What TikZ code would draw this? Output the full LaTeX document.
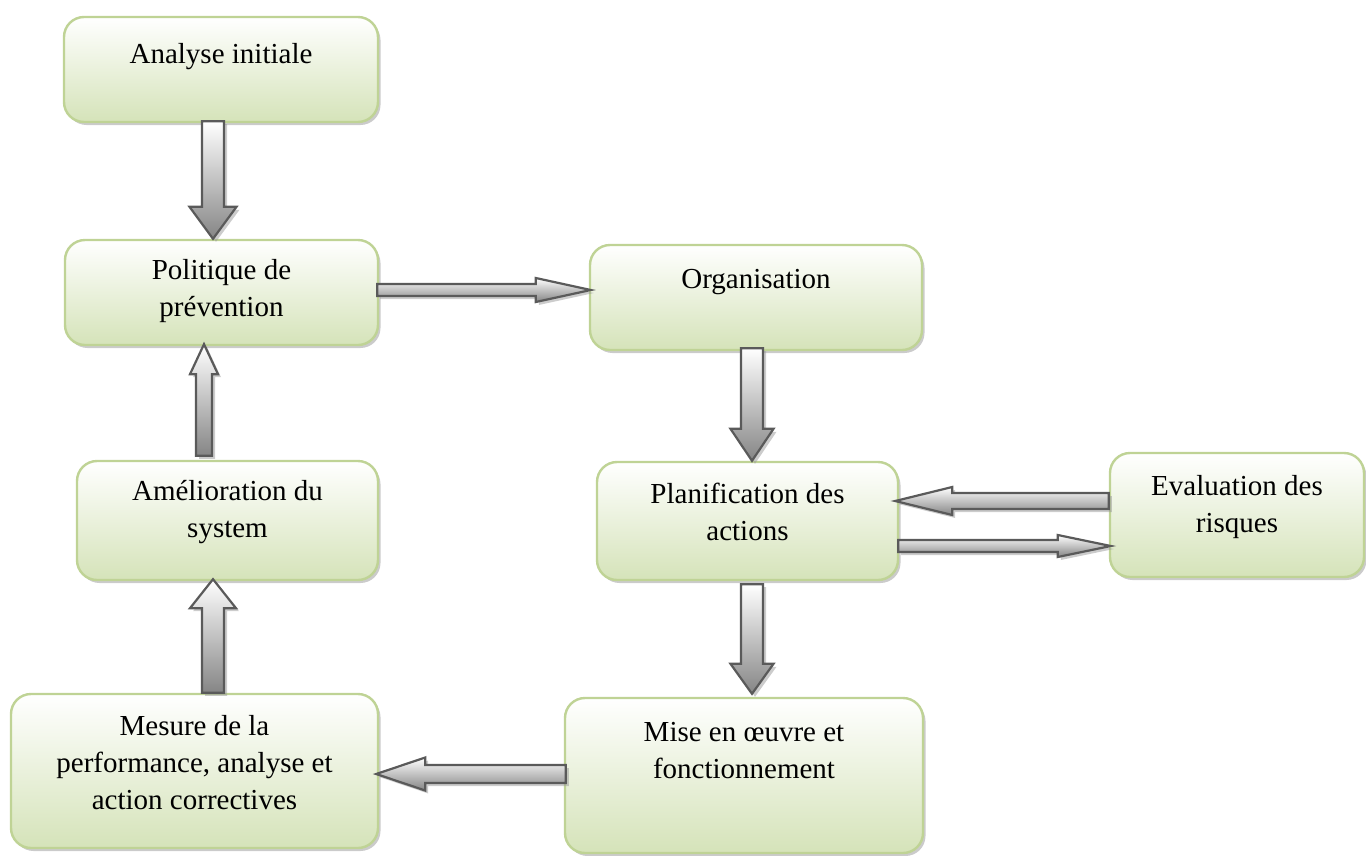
\documentclass[tikz,border=0pt]{standalone}
\usepackage{fontspec}
\setmainfont{Liberation Serif}
\usetikzlibrary{calc,shadows}

\definecolor{boxgreen}{HTML}{D5E3B9}
\definecolor{boxline}{HTML}{BFD395}
\definecolor{arrowgray}{HTML}{858585}
\definecolor{arrowline}{HTML}{5A5A5A}

\tikzset{
  stagebox/.style={rounded corners=20pt, draw=boxline, line width=2.4pt,
    top color=white, bottom color=boxgreen, inner sep=0pt,
    drop shadow={shadow xshift=2.5pt, shadow yshift=-3pt, fill=black!45, opacity=0.45}},
  stagetext/.style={anchor=base, inner sep=0pt, align=center,
    font=\fontsize{29}{37}\selectfont},
  blockarrow/.style={draw=arrowline, line width=2.2pt, line join=miter,
    top color=white, bottom color=arrowgray,
    drop shadow={shadow xshift=3pt, shadow yshift=-3pt, fill=black!40, opacity=0.5}}
}

% block arrow: #1 tail, #2 tip, #3 shaft half-width, #4 head half-width, #5 head length
\newcommand\blockarrow[5]{%
  \coordinate (ba-tail) at #1;
  \coordinate (ba-tip) at #2;
  \coordinate (ba-hb) at ($(ba-tip)!#5!(ba-tail)$);
  \draw[blockarrow]
    ($(ba-tail)!#3!90:(ba-tip)$) -- ($(ba-hb)!#3!-90:(ba-tail)$)
    -- ($(ba-hb)!#4!-90:(ba-tail)$) -- (ba-tip)
    -- ($(ba-hb)!#4!90:(ba-tail)$) -- ($(ba-hb)!#3!90:(ba-tail)$)
    -- ($(ba-tail)!#3!-90:(ba-tip)$) -- cycle;
}

\begin{document}
\begin{tikzpicture}[x=1pt, y=-1pt]
\useasboundingbox (0,0) rectangle (1366,855);

% stages
\node[stagebox, minimum width=314pt, minimum height=105pt] (A)  at (221,69.5)   {};
\node[stagebox, minimum width=313pt, minimum height=105pt] (P)  at (221.5,292.5) {};
\node[stagebox, minimum width=332pt, minimum height=105pt] (O)  at (756,297.5)  {};
\node[stagebox, minimum width=301pt, minimum height=118pt] (PL) at (747.5,521)  {};
\node[stagebox, minimum width=254pt, minimum height=124pt] (E)  at (1237,515)   {};
\node[stagebox, minimum width=301pt, minimum height=119pt] (AM) at (227.5,520.5) {};
\node[stagebox, minimum width=367pt, minimum height=154pt] (M)  at (194.5,771)  {};
\node[stagebox, minimum width=358pt, minimum height=155pt] (MI) at (744,775.5)  {};

% stage labels (anchored on the baseline of their last line)
\node[stagetext] (tA)  at ($(A.north)+(0,48)$)    {Analyse initiale};
\node[stagetext] (tP)  at ($(P.north)+(0,78)$)    {Politique de\\prévention};
\node[stagetext] (tO)  at ($(O.north)+(0,45)$)    {Organisation};
\node[stagetext] (tPL) at ($(PL.north)+(0,80)$)   {Planification des\\actions};
\node[stagetext] (tE)  at ($(E.north)+(0,81)$)    {Evaluation des\\risques};
\node[stagetext] (tAM) at ($(AM.north)+(0,78)$)   {Amélioration du\\system};
\node[stagetext] (tM)  at ($(M.north)+(0,117)$)   {Mesure de la\\performance, analyse et\\action correctives};
\node[stagetext] (tMI) at ($(MI.north)+(0,82)$)   {Mise en œuvre et\\fonctionnement};

% connectors
\blockarrow{($(A.south)+(-8,-2)$)}{($(P.north)+(-8.5,0)$)}{11pt}{23.5pt}{32pt}
\blockarrow{($(P.east)+(-2,-2.5)$)}{($(O.west)+(2,-7.5)$)}{6pt}{12pt}{55pt}
\blockarrow{($(O.south)+(-4,-3)$)}{($(PL.north)+(4.5,0)$)}{11pt}{21.5pt}{32pt}
\blockarrow{($(E.west)+(0,-14)$)}{($(PL.east)+(-4,-20)$)}{8pt}{14pt}{57pt}
\blockarrow{($(PL.east)+(-1,25)$)}{($(E.west)+(2,31)$)}{6pt}{11pt}{53pt}
\blockarrow{($(PL.south)+(4.5,3)$)}{($(MI.north)+(8,-3)$)}{11pt}{21.5pt}{30pt}
\blockarrow{($(MI.west)+(2,-1.5)$)}{($(M.east)+(-3,3)$)}{9pt}{16.5pt}{49pt}
\blockarrow{($(M.north)+(18.5,0)$)}{($(AM.south)+(-14.5,-2)$)}{11pt}{23pt}{29pt}
\blockarrow{($(AM.north)+(-23.5,-4)$)}{($(P.south)+(-17.5,-2)$)}{8pt}{14pt}{30pt}
\end{tikzpicture}
\end{document}
